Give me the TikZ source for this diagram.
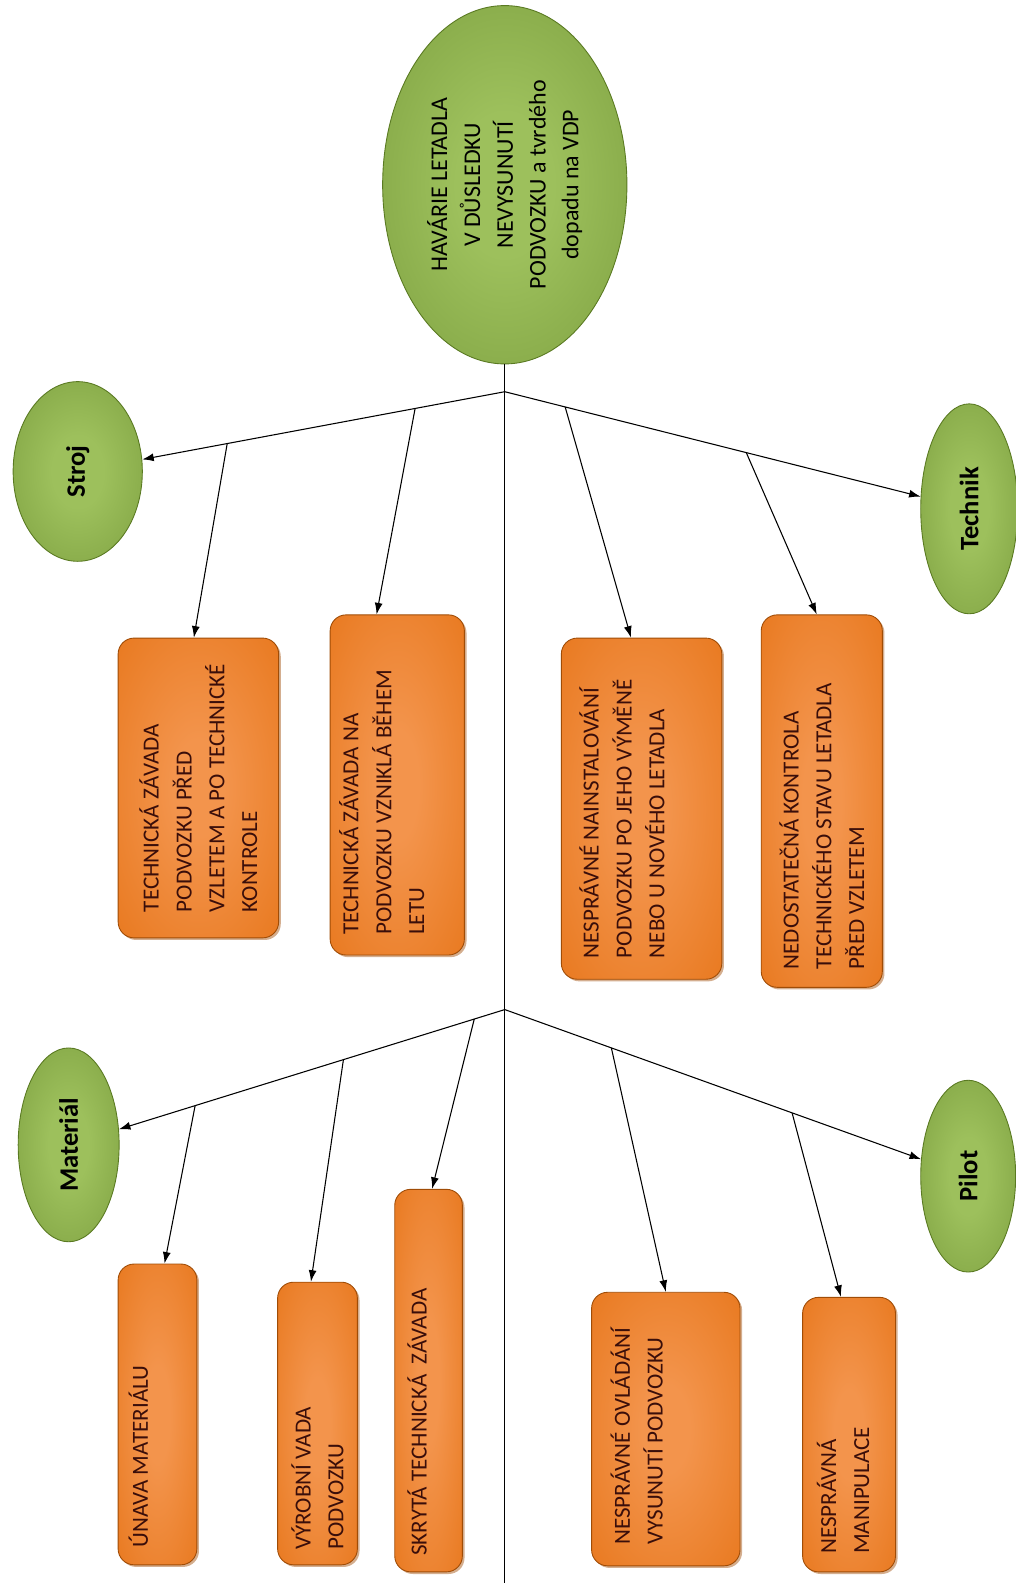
\documentclass[tikz,border=0pt]{standalone}
\usepackage{fontspec}
\setmainfont{Carlito}
\usetikzlibrary{shapes.geometric,arrows.meta,calc,shadows}

\definecolor{odark}{HTML}{E36C0A}
\definecolor{olight}{HTML}{F3944C}
\definecolor{oline}{HTML}{A04C06}
\definecolor{gdark}{HTML}{6E9133}
\definecolor{glight}{HTML}{9DC05C}
\definecolor{gline}{HTML}{5A7A22}
\definecolor{ink}{HTML}{3A0E0A}

\pgfdeclareradialshading{orangeglow}{\pgfpoint{0bp}{0bp}}{color(0bp)=(olight); color(8bp)=(olight); color(50bp)=(odark); color(100bp)=(odark)}
\pgfdeclareradialshading{greenglow}{\pgfpoint{0bp}{0bp}}{color(0bp)=(glight); color(10bp)=(glight); color(50bp)=(gdark); color(100bp)=(gdark)}

\tikzset{
  cause/.style={rotate=90, rounded corners=9pt, shade, shading=orangeglow, draw=oline, line width=0.5pt,
    drop shadow={shadow xshift=1.2pt, shadow yshift=-1.2pt, opacity=0.45, fill=oline},
    align=flush left, text=ink, inner sep=0pt, font=\fontsize{13}{18.5}\selectfont},
  group/.style={ellipse, rotate=90, shade, shading=greenglow, draw=gline, line width=0.5pt,
    inner sep=0pt, text=black, font=\fontsize{15}{17}\selectfont\bfseries},
  lift/.style={text depth=#1},
  arr/.style={-{Latex[length=6.5pt,width=4.5pt]}, line width=0.6pt},
}

\begin{document}
\begin{tikzpicture}[x=0.02cm,y=-0.02cm]
  \useasboundingbox (0,0) rectangle (1006,1568);

  \node[group, minimum width=7.1cm, minimum height=4.84cm, align=center,
    font=\fontsize{13.5}{18.5}\selectfont] (havarie) at (500,183)
    {HAVÁRIE LETADLA\\V DŮSLEDKU\\NEVYSUNUTÍ\\PODVOZKU a tvrdého\\dopadu na VDP};

  \node[group, minimum width=3.56cm, minimum height=2.56cm] (stroj) at (77,467) {Stroj};
  \node[group, minimum width=4.16cm, minimum height=1.92cm] (technik) at (960,504) {Technik};
  \node[group, minimum width=3.84cm, minimum height=2cm] (material) at (68,1134) {Materiál};
  \node[group, minimum width=3.8cm, minimum height=1.88cm] (pilot) at (959,1165) {Pilot};

  \node[cause, minimum width=5.94cm, minimum height=3.18cm] (predvzletem) at (196.5,780.5)
    {TECHNICKÁ ZÁVADA\\PODVOZKU PŘED\\VZLETEM A PO TECHNICKÉ\\KONTROLE};
  \node[cause, minimum width=6.74cm, minimum height=2.66cm, text width=5.94cm, lift=1.92cm] (behemletu) at (393.5,777.5)
    {TECHNICKÁ ZÁVADA NA\\PODVOZKU VZNIKLÁ BĚHEM\\LETU};
  \node[cause, minimum width=6.76cm, minimum height=3.18cm, text width=5.92cm, lift=2.08cm] (instalace) at (635.5,801)
    {NESPRÁVNÉ NAINSTALOVÁNÍ\\PODVOZKU PO JEHO VÝMĚNĚ\\NEBO U NOVÉHO LETADLA};
  \node[cause, minimum width=7.38cm, minimum height=2.4cm, text width=6.66cm] (kontrola) at (814,793.5)
    {NEDOSTATEČNÁ KONTROLA\\TECHNICKÉHO STAVU LETADLA\\PŘED VZLETEM};
  \node[cause, minimum width=5.96cm, minimum height=1.56cm, text width=5.28cm, lift=0.76cm] (unava) at (156,1401)
    {ÚNAVA MATERIÁLU};
  \node[cause, minimum width=5.6cm, minimum height=1.58cm, text width=5cm] (vyroba) at (314.5,1410)
    {VÝROBNÍ VADA\\PODVOZKU};
  \node[cause, minimum width=7.58cm, minimum height=1.34cm, text width=6.94cm, lift=0.46cm] (skryta) at (424.5,1367.5)
    {SKRYTÁ TECHNICKÁ~~ZÁVADA};
  \node[cause, minimum width=5.42cm, minimum height=2.94cm, text width=4.58cm, lift=1.81cm] (ovladani) at (659.5,1415.5)
    {NESPRÁVNÉ OVLÁDÁNÍ\\VYSUNUTÍ PODVOZKU};
  \node[cause, minimum width=5.44cm, minimum height=1.84cm, text width=4.72cm, lift=0.89cm] (manipulace) at (841,1421)
    {NESPRÁVNÁ\\MANIPULACE};

  \coordinate (j1) at (500,388);
  \coordinate (j2) at (500,1000);
  \coordinate (foot) at (500,1568);
  \coordinate (s1) at ($(j1)!0.65!(stroj)$);
  \coordinate (s2) at ($(j1)!0.21!(stroj)$);
  \coordinate (t1) at ($(j1)!0.13!(technik)$);
  \coordinate (t2) at ($(j1)!0.52!(technik)$);
  \coordinate (m1) at ($(j2)!0.71!(material)$);
  \coordinate (m2) at ($(j2)!0.37!(material)$);
  \coordinate (m3) at ($(j2)!0.07!(material)$);
  \coordinate (p1) at ($(j2)!0.23!(pilot)$);
  \coordinate (p2) at ($(j2)!0.62!(pilot)$);

  \draw[line width=0.6pt] (havarie) -- (foot);
  \draw[arr] (j1) -- (stroj);
  \draw[arr] (j1) -- (technik);
  \draw[arr] (j2) -- (material);
  \draw[arr] (j2) -- (pilot);

  \draw[arr] (s1) -- ([xshift=-0.09cm]predvzletem.east);
  \draw[arr] (s2) -- ([xshift=-0.41cm]behemletu.east);
  \draw[arr] (t1) -- ([xshift=-0.21cm]instalace.east);
  \draw[arr] (t2) -- ([xshift=-0.1cm]kontrola.east);
  \draw[arr] (m1) -- ([xshift=0.14cm]unava.east);
  \draw[arr] (m2) -- ([xshift=-0.13cm]vyroba.east);
  \draw[arr] (m3) -- ([xshift=0.07cm]skryta.east);
  \draw[arr] (p1) -- (ovladani.east);
  \draw[arr] (p2) -- ([xshift=-0.16cm]manipulace.east);
\end{tikzpicture}
\end{document}
